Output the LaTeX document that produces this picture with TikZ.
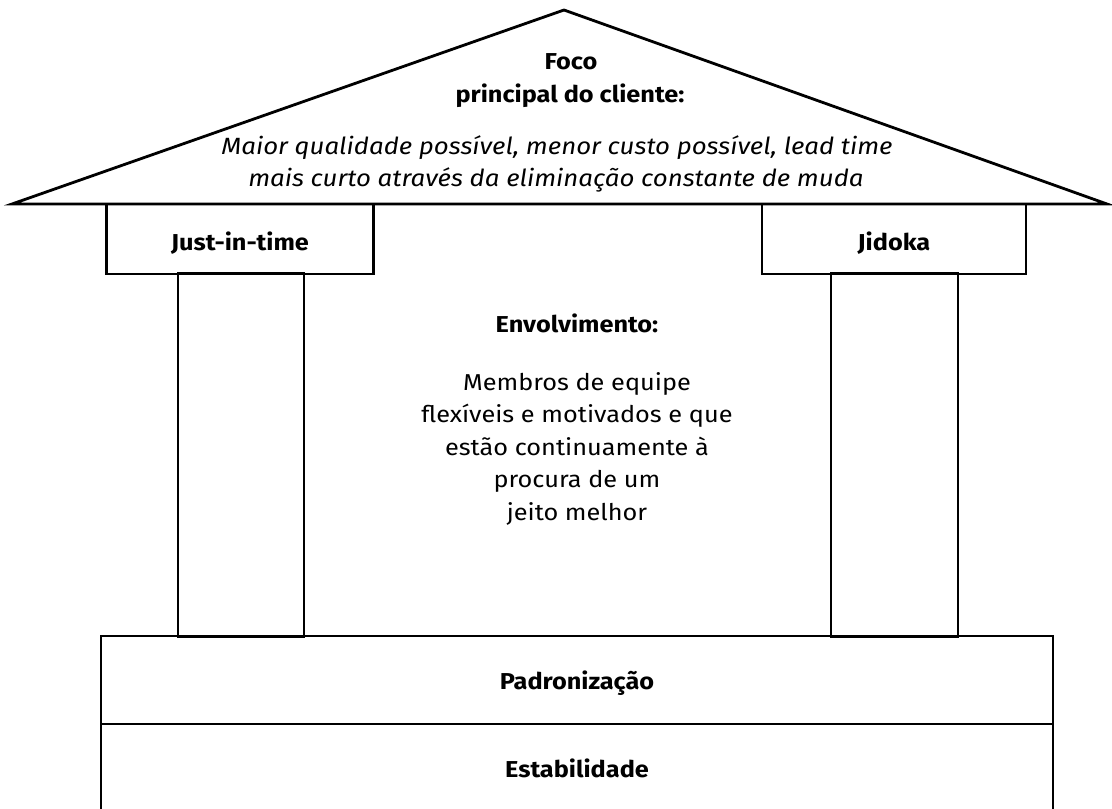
\documentclass[tikz,border=0pt]{standalone}
\usepackage{fontspec}
\setmainfont{Fira Sans}[FakeStretch=1.1]
\begin{document}
\begin{tikzpicture}[x=1pt,y=-1pt,
  ln/.style={line width=2.8pt, line join=miter},
  boxnode/.style={ln, draw, rectangle, inner sep=0pt, align=center},
  bl/.style={font=\fontsize{23}{28}\selectfont\bfseries, inner sep=0pt},
  it/.style={font=\fontsize{23.5}{28}\selectfont\itshape, anchor=base, inner sep=0pt},
  bd/.style={font=\fontsize{23}{28}\selectfont, anchor=base, inner sep=0pt}]
\useasboundingbox (0,0) rectangle (1112,809);
% roof
\coordinate (apex) at (564,10);
\coordinate (rl) at (12,204);
\coordinate (rr) at (1107,204);
\draw[ln] (rl) -- (apex) -- (rr) -- cycle;
% capital boxes
\node[boxnode, minimum width=267pt, minimum height=70pt] (jit) at (240,239) {};
\node[boxnode, minimum width=264pt, minimum height=70pt] (jid) at (894,239) {};
% pillars
\node[boxnode, minimum width=126pt, minimum height=363pt] (pl) at (241,455) {};
\node[boxnode, minimum width=127pt, minimum height=363pt] (pr) at (894.5,455) {};
% base
\node[boxnode, minimum width=952pt, minimum height=88pt] (pad) at (577,680) {};
\node[boxnode, minimum width=952pt, minimum height=86pt] (est) at (577,767) {};
% texts
\node[bl, anchor=base] (foco) at (571,69) {Foco};
\node[bl, anchor=base] (princ) at (570,102) {principal do cliente:};
\node[it] (desc1) at (557,154) {Maior qualidade possível, menor custo possível, lead time};
\node[it] (desc2) at (556,186) {mais curto através da eliminação constante de muda};
\node[bl] (jitt) at ([yshift=-4pt]jit.center) {Just-in-time};
\node[bl] (jidt) at ([yshift=-4pt]jid.center) {Jidoka};
\node[bl, anchor=base] (env) at (577,332) {Envolvimento:};
\node[bd] (env1) at (577,390) {Membros de equipe};
\node[bd] (env2) at (577,422.5) {flexíveis e motivados e que};
\node[bd] (env3) at (577,455) {estão continuamente à};
\node[bd] (env4) at (577,487.5) {procura de um};
\node[bd] (env5) at (577,520) {jeito melhor};
\node[bl] (padt) at ([yshift=-3pt]pad.center) {Padronização};
\node[bl] (estt) at ([yshift=-1pt]est.center) {Estabilidade};
\end{tikzpicture}
\end{document}
